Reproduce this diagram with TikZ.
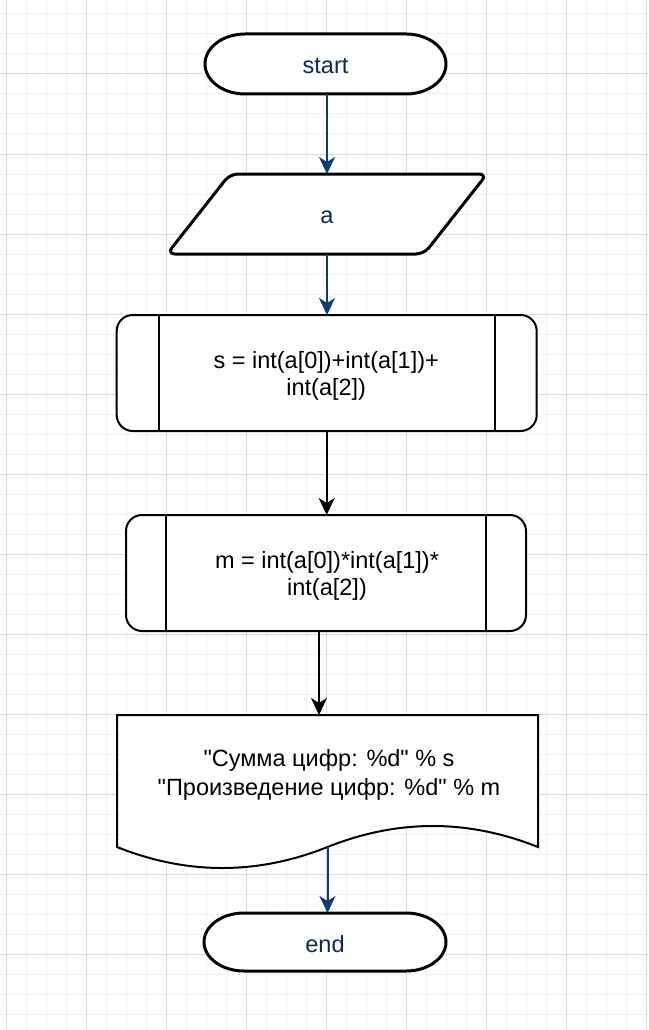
\documentclass[tikz,border=0pt]{standalone}
\usepackage{fontspec}
\setmainfont{Liberation Sans}
\newfontfamily\plainsans{Liberation Sans}
\usetikzlibrary{arrows.meta}
\pgfdeclarelayer{gridlayer}
\pgfdeclarelayer{shapelayer}
\pgfsetlayers{gridlayer,shapelayer,main}
\definecolor{navy}{HTML}{0C2A4D}
\definecolor{edgeblue}{HTML}{0E3C6E}
\definecolor{gridmajor}{HTML}{DADADA}
\definecolor{gridminor}{HTML}{F2F2F2}
\begin{document}
\begin{tikzpicture}[x=1pt,y=1pt,
  txt/.style={font=\plainsans\fontsize{23.5}{27}\selectfont, align=center, inner sep=0pt},
  holder/.style={rectangle, inner sep=0pt, outer sep=0pt},
  termline/.style={line width=3pt, draw=black, fill=white},
  procbox/.style={holder, draw=black, fill=white, line width=2pt, rounded corners=16pt},
  tip/.style={-{Stealth[length=17pt,width=16pt,inset=5pt]}},
  blueflow/.style={draw=edgeblue, line width=2pt, tip},
  blackflow/.style={draw=black, line width=2pt, tip}
]
\useasboundingbox (0,0) rectangle (648,-1030);
\begin{pgfonlayer}{gridlayer}
\fill[white] (0,0) rectangle (648,-1030);
\foreach \x in {6,26,...,646} \draw[gridminor, line width=1pt] (\x,0) -- (\x,-1030);
\foreach \y in {14,34,...,1030} \draw[gridminor, line width=1pt] (0,-\y) -- (648,-\y);
\foreach \x in {6,86,...,646} \draw[gridmajor, line width=1pt] (\x,0) -- (\x,-1030);
\foreach \y in {74,154,...,1030} \draw[gridmajor, line width=1pt] (0,-\y) -- (648,-\y);
\end{pgfonlayer}

% shape holders
\node[holder, minimum width=241, minimum height=60] (start) at (325.5,-64) {};
\node[holder, minimum width=320, minimum height=80] (inp) at (327,-214) {};
\node[procbox, minimum width=420, minimum height=116] (p1) at (326.7,-373) {};
\draw[line width=2pt] ([xshift=42pt]p1.north west) -- ([xshift=42pt]p1.south west);
\draw[line width=2pt] ([xshift=-42pt]p1.north east) -- ([xshift=-42pt]p1.south east);
\node[procbox, minimum width=400, minimum height=116] (p2) at (326,-573) {};
\draw[line width=2pt] ([xshift=40pt]p2.north west) -- ([xshift=40pt]p2.south west);
\draw[line width=2pt] ([xshift=-40pt]p2.north east) -- ([xshift=-40pt]p2.south east);
\node[holder, minimum width=421, minimum height=115] (doc) at (327.5,-772.5) {};
\coordinate (docb) at (327.5,-847);
\node[holder, minimum width=242, minimum height=58] (end) at (325,-942) {};

% texts
\node[txt, text=navy] (tstart) at ([yshift=-2.5pt]start.center) {start};
\node[txt, text=navy] (tinp) at ([yshift=-3.5pt]inp.center) {a};
\node[txt] (tp1) at ([xshift=-0.5pt,yshift=-3pt]p1.center) {s = int(a[0])+int(a[1])+\\int(a[2])};
\node[txt] (tp2) at ([xshift=1pt,yshift=-3pt]p2.center) {m = int(a[0])*int(a[1])*\\int(a[2])};
\node[txt, font=\plainsans\fontsize{23.5}{28.4}\selectfont] (tdoc) at ([xshift=1.5pt,yshift=-2.5pt]doc.center) {"Сумма цифр: \%d" \% s\\"Произведение цифр: \%d" \% m};
\node[txt, text=navy] (tend) at ([yshift=-2.5pt]end.center) {end};

\begin{pgfonlayer}{shapelayer}
\draw[termline] ([xshift=40pt]start.north west) -- ([xshift=-40pt]start.north east)
  arc[start angle=90, end angle=-90, x radius=40, y radius=30]
  -- ([xshift=40pt]start.south west)
  arc[start angle=270, end angle=90, x radius=40, y radius=30] -- cycle;
\draw[termline, rounded corners=8pt] ([xshift=63pt]inp.north west) -- (inp.north east)
  -- ([xshift=-63pt]inp.south east) -- (inp.south west) -- cycle;
\draw[line width=2pt, fill=white] (doc.north west) -- (doc.north east) -- (538,-847)
  .. controls (467.8,-819) and (397.7,-819) .. (docb)
  .. controls (257.2,-875) and (187.3,-875) .. (117,-847) -- cycle;
\draw[termline] ([xshift=40pt]end.north west) -- ([xshift=-40pt]end.north east)
  arc[start angle=90, end angle=-90, x radius=40, y radius=29]
  -- ([xshift=40pt]end.south west)
  arc[start angle=270, end angle=90, x radius=40, y radius=29] -- cycle;
\end{pgfonlayer}

% connectors
\draw[blueflow] ([xshift=1.5pt]start.south) -- ([xshift=1.5pt]start.south |- inp.north);
\draw[blueflow] (inp.south) -- (inp.south |- p1.north);
\draw[blackflow] (p1.south) -- (p1.south |- p2.north);
\coordinate (a4) at ([xshift=-7pt]p2.south);
\draw[blackflow] (a4) -- (a4 |- doc.north);
\draw[blueflow] (docb) -- (docb |- end.north);
\end{tikzpicture}
\end{document}
